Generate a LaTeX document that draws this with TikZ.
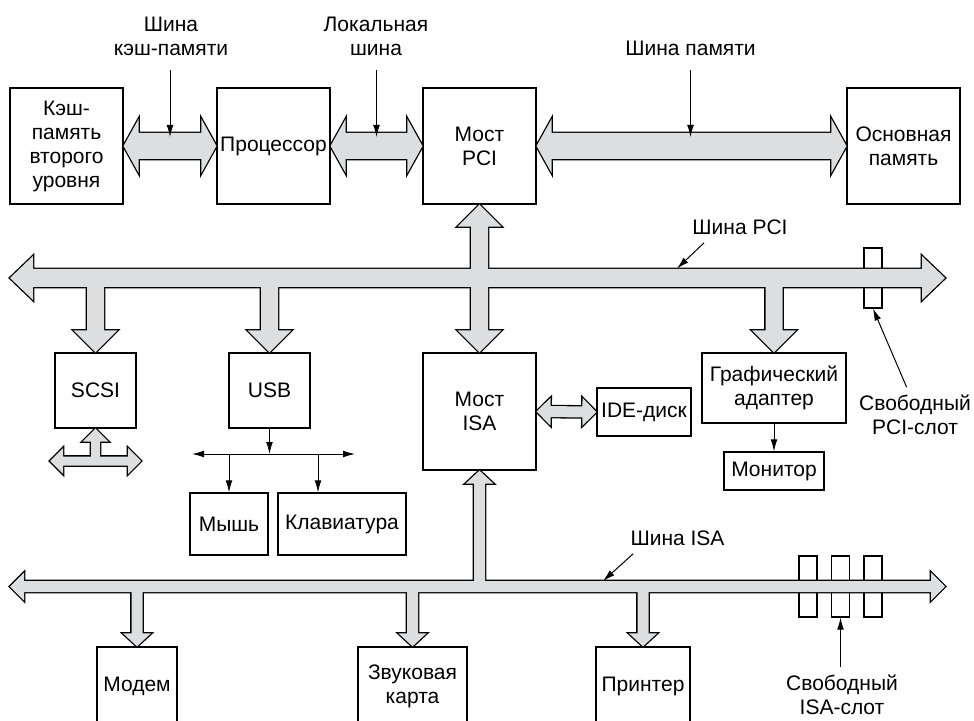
\documentclass[tikz,border=0pt]{standalone}
\usepackage{fontspec}
\setmainfont{Liberation Sans}
\usetikzlibrary{arrows.meta, calc}
\definecolor{busGray}{RGB}{221,222,224}

\tikzset{
    bus shaft/.store in=\busS,
    bus head/.store in=\busH,
    bus tip/.store in=\busL
}
% wide two-headed bus arrow from #2 to #3
\newcommand{\busdbl}[3][]{%
  \path[#1] (#2) -- ($(#2)!\busL!(#3)!\busH!90:(#3)$) -- ($(#2)!\busL!(#3)!\busS!90:(#3)$)
    -- ($(#3)!\busL!(#2)!\busS!-90:(#2)$) -- ($(#3)!\busL!(#2)!\busH!-90:(#2)$) -- (#3)
    -- ($(#3)!\busL!(#2)!\busH!90:(#2)$) -- ($(#3)!\busL!(#2)!\busS!90:(#2)$)
    -- ($(#2)!\busL!(#3)!\busS!-90:(#3)$) -- ($(#2)!\busL!(#3)!\busH!-90:(#3)$) -- cycle;}
% wide one-headed bus arrow from #2 to #3
\newcommand{\busone}[3][]{%
  \path[#1] ($(#2)!\busS!90:(#3)$) -- ($(#3)!\busL!(#2)!\busS!-90:(#2)$)
    -- ($(#3)!\busL!(#2)!\busH!-90:(#2)$) -- (#3) -- ($(#3)!\busL!(#2)!\busH!90:(#2)$)
    -- ($(#3)!\busL!(#2)!\busS!90:(#2)$) -- ($(#2)!\busS!-90:(#3)$) -- cycle;}

\begin{document}
\begin{tikzpicture}[x=0.5pt, y=-0.5pt,
    every node/.append style={font=\fontsize{10.5pt}{12pt}\selectfont},
    unit/.style={rectangle, draw, line width=0.6pt, align=center, inner sep=1pt},
    bigbox/.style={unit, minimum width=56.5pt, minimum height=58pt},
    smallbox/.style={unit, minimum width=40.5pt, minimum height=37.5pt},
    lowbox/.style={unit, minimum height=39pt},
    slot/.style={rectangle, draw, line width=0.6pt, minimum width=9pt, minimum height=30pt, inner sep=0pt},
    note/.style={align=center, inner sep=1pt},
    ptr/.style={-{Latex[length=6pt,width=3.4pt]}, line width=0.5pt},
    ptrboth/.style={{Latex[length=6pt,width=3.4pt]}-{Latex[length=6pt,width=3.4pt]}, line width=0.5pt},
    mainbus/.style={bus shaft=6.5pt, bus head=13.5pt, bus tip=7.5pt},
    pcibus/.style={bus shaft=4.5pt, bus head=11pt, bus tip=11.5pt},
    pcidrop/.style={bus shaft=4.25pt, bus head=11pt, bus tip=11pt},
    isabus/.style={bus shaft=2.75pt, bus head=7pt, bus tip=7pt},
    isadrop/.style={bus shaft=2.75pt, bus head=7pt, bus tip=6.5pt},
    scsibus/.style={bus shaft=2.25pt, bus head=6.5pt, bus tip=6.5pt}
]
\useasboundingbox (0,0) rectangle (974,721);
\clip (0,0) rectangle (974,721);

% boxes
\node[bigbox] (cache) at (66.5,146) {Кэш-\\память\\второго\\уровня};
\node[bigbox] (cpu) at (273.5,146) {Процессор};
\node[bigbox] (pcibr) at (479.5,146) {Мост\\PCI};
\node[bigbox] (mem) at (903.5,146) {Основная\\память};
\node[smallbox] (scsi) at (95.5,390.5) {SCSI};
\node[smallbox] (usb) at (269.5,390.5) {USB};
\node[bigbox, minimum height=58.5pt] (isabr) at (479.5,411.5) {Мост\\ISA};
\node[unit, minimum width=47pt, minimum height=24pt] (ide) at (644,412) {IDE-диск};
\node[unit, minimum width=72pt, minimum height=35pt] (gfx) at (774,388) {Графический\\адаптер};
\node[unit, minimum width=50pt, minimum height=19pt] (mon) at (774,471) {Монитор};
\node[unit, minimum width=39pt, minimum height=31pt] (mouse) at (229,524) {Мышь};
\node[unit, minimum width=64pt, minimum height=31pt] (kbd) at (342,524) {Клавиатура};
\node[lowbox, minimum width=40pt] (modem) at (137,686) {Модем};
\node[lowbox, minimum width=54.5pt] (sound) at (412.5,686) {Звуковая\\карта};
\node[lowbox, minimum width=47pt] (printer) at (643,686) {Принтер};

% free slots, under the buses
\node[slot] (pcislot) at (873,278) {};
\foreach \i/\x in {1/808, 2/840.5, 3/873}
  \node[slot, minimum height=30.5pt] (isaslot\i) at (\x,586.5) {};

% bus ends and taps
\coordinate (pciL) at (10,278);
\coordinate (pciR) at (945,278);
\coordinate (isaL) at (10,586.5);
\coordinate (isaR) at (945,586.5);
\coordinate (scsiL) at (50,461);
\coordinate (scsiR) at (141,461);
\coordinate (scsiup) at (scsi.south |- scsiL);
\coordinate (isaup) at (isabr.south |- isaL);
\foreach \n in {scsi,usb,gfx} \coordinate (\n tap) at (\n.north |- pciL);
\foreach \n in {modem,sound,printer} \coordinate (\n tap) at (\n.north |- isaL);

% buses: outlines first, then the grey faces on top
\foreach \edge/\face/\lw in {black/none/1.3pt, none/busGray/0pt} {
  \begin{scope}[every path/.style={draw=\edge, fill=\face, line width=\lw}]
  \busdbl[mainbus]{cache.east}{cpu.west}
  \busdbl[mainbus]{cpu.east}{pcibr.west}
  \busdbl[mainbus]{pcibr.east}{mem.west}
  \busdbl[pcibus]{pciL}{pciR}
  \busdbl[pcidrop]{pcibr.south}{isabr.north}
  \foreach \n in {scsi,usb,gfx} {\busone[pcidrop]{\n tap}{\n.north}}
  \busdbl[isabus]{isaL}{isaR}
  \busone[isadrop]{isaup}{isabr.south}
  \foreach \n in {modem,sound,printer} {\busone[isadrop]{\n tap}{\n.north}}
  \busdbl[isabus]{isabr.east}{ide.west}
  \busdbl[scsibus]{scsiL}{scsiR}
  \busone[scsibus]{scsiup}{scsi.south}
  \end{scope}
}

% labels
\node[note] (lcache) at (171,36) {Шина\\кэш-памяти};
\node[note] (llocal) at (376,36) {Локальная\\шина};
\node[note] (lmem) at (690.5,48) {Шина памяти};
\node[note] (lpci) at (740,227) {Шина PCI};
\node[note] (lisa) at (677.5,538) {Шина ISA};
\node[note] (lpcislot) at (915,415) {Свободный\\PCI-слот};
\node[note] (lisaslot) at (842,695) {Свободный\\ISA-слот};

\coordinate (tcache) at (170,137);
\coordinate (tlocal) at (376.5,137);
\coordinate (tmem) at (690.5,137);
\coordinate (tpci) at (677,268.5);
\coordinate (tisa) at (603,581);

\draw[ptr, shorten <=6pt] (lcache.south -| tcache) -- (tcache);
\draw[ptr, shorten <=6pt] (llocal.south -| tlocal) -- (tlocal);
\draw[ptr, shorten <=6pt] (lmem.south -| tmem) -- (tmem);
\draw[ptr] ([shift={(7pt,-3pt)}]lpci.south west) -- (tpci);
\draw[ptr] ([shift={(2.5pt,-3pt)}]lisa.south west) -- (tisa);
\draw[ptr, shorten <=3pt] ([xshift=-3pt]lpcislot.north) -- (pcislot.south);
\draw[ptr, shorten <=3pt] (isaslot2.south |- lisaslot.north) -- (isaslot2.south);

% USB devices and monitor
\coordinate (usbhub) at (269.5,454);
\coordinate (usbL) at (192,454);
\coordinate (usbR) at (355,454);
\coordinate (kbdtap) at (318,454);
\draw[ptr] (usb) -- (usbhub);
\draw[ptrboth] (usbL) -- (usbR);
\draw[ptr] (mouse.north |- usbhub) -- (mouse);
\draw[ptr] (kbdtap) -- (kbdtap |- kbd.north);
\draw[ptr] (gfx) -- (mon);
\end{tikzpicture}
\end{document}
